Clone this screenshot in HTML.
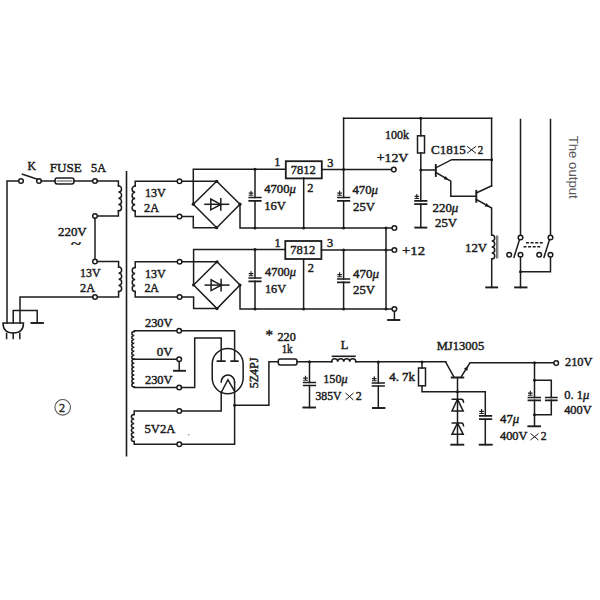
<!DOCTYPE html>
<html><head><meta charset="utf-8"><style>
html,body{margin:0;padding:0;background:#fff;width:600px;height:600px;overflow:hidden}
svg{display:block}
</style></head><body>
<svg width="600" height="600" viewBox="0 0 600 600">
<rect width="600" height="600" fill="#fff"/>
<g fill="none" stroke="#1c1c1c" stroke-width="1.5" stroke-linecap="square" stroke-linejoin="miter">
<path d="M36.7,181 L39,181" />
<path d="M7,323 V181 H18.7" />
<circle cx="21" cy="181" r="2.3" fill="#fff"/>
<circle cx="39" cy="181" r="2.3" fill="#fff"/>
<path d="M22.5,174.2 L37.5,179.2" />
<path d="M41.3,181 H55 M74,181 H92.7" />
<rect x="55" y="178" width="19" height="6" rx="2.2"/>
<path d="M57,181 H72" stroke-width="0.8"/>
<circle cx="95" cy="181" r="2.3" fill="#fff"/>
<path d="M97.3,181 H118.4 V185.8" />
<path d="M118.4,185.8 a3.12,3.12 0 0 1 0,6.250 a3.12,3.12 0 0 1 0,6.250 a3.12,3.12 0 0 1 0,6.250 a3.12,3.12 0 0 1 0,6.250" />
<path d="M118.4,210.8 V216 H97.3" />
<circle cx="95" cy="216" r="2.3" fill="#fff"/>
<path d="M95,218.3 V259" />
<circle cx="95" cy="261.5" r="2.3" fill="#fff"/>
<path d="M97.3,261.5 H118.6 V267" />
<path d="M118.6,267 a3.06,3.06 0 0 1 0,6.125 a3.06,3.06 0 0 1 0,6.125 a3.06,3.06 0 0 1 0,6.125 a3.06,3.06 0 0 1 0,6.125" />
<path d="M118.6,291.5 V297 H97.3" />
<circle cx="95" cy="297" r="2.3" fill="#fff"/>
<path d="M92.7,297 H20 V323" />
<path d="M13.2,323 V310.5 H37.2 V323" />
<path d="M31.450000000000003,323 H42.95" stroke-width="1.9"/>
<path d="M3,323 H23.5 Q23.5,333 13.2,333 Q3,333 3,323 Z" />
<path d="M6.6,333.5 V338.5 M13.2,333.5 V338.5 M19.8,333.5 V338.5" />
<path d="M126.5,171.7 V455.8" stroke-width="1.6"/>
<path d="M177.2,181.3 H135.2 V186" />
<path d="M135.2,186 a3.12,3.12 0 0 0 0,6.250 a3.12,3.12 0 0 0 0,6.250 a3.12,3.12 0 0 0 0,6.250 a3.12,3.12 0 0 0 0,6.250" />
<path d="M135.2,211 V216.5 H177.2" />
<circle cx="179.5" cy="181.3" r="2.3" fill="#fff"/>
<circle cx="179.5" cy="216.5" r="2.3" fill="#fff"/>
<path d="M181.8,181.3 H216.7" />
<path d="M216.7,181.3 L240,204.2 L216.7,227.7 L193.3,204.2 Z" />
<path d="M193.3,204.2 V169.2 H285.3" />
<path d="M181.8,216.5 H193.3 V227.7 H216.7" />
<path d="M240,204.2 V228 H392.1" />
<circle cx="216.7" cy="181.3" r="1.6" fill="#1c1c1c" stroke="none"/>
<circle cx="193.3" cy="204.2" r="1.6" fill="#1c1c1c" stroke="none"/>
<circle cx="240" cy="204.2" r="1.6" fill="#1c1c1c" stroke="none"/>
<circle cx="216.7" cy="227.7" r="1.6" fill="#1c1c1c" stroke="none"/>
<path d="M205,204.3 H228.5" />
<path d="M210.8,199 V209.8 L220.8,204.4 Z" />
<path d="M220.8,198.8 V210" />
<path d="M255,169.2 V197.5 M255,200.9 V228" />
<path d="M249.25,197.5 H260.75 M249.25,200.9 H260.75" stroke-width="1.7"/>
<path d="M248.7,193.1 H253.3 M251.0,190.7 V195.1 M248.7,195.2 H253.3" stroke-width="1.1" stroke-linecap="butt"/>
<circle cx="255" cy="169.2" r="1.5" fill="#1c1c1c" stroke="none"/>
<circle cx="255" cy="228" r="1.5" fill="#1c1c1c" stroke="none"/>
<rect x="285.8" y="161.2" width="36" height="17.2" stroke-width="1.8"/>
<path d="M303.7,178 V228" />
<circle cx="303.7" cy="228" r="1.5" fill="#1c1c1c" stroke="none"/>
<path d="M322,169.6 H391.5" />
<circle cx="393.8" cy="169.6" r="2.3" fill="#fff"/>
<circle cx="343.6" cy="169.6" r="1.5" fill="#1c1c1c" stroke="none"/>
<path d="M343.6,118.3 V197.5 M343.6,200.9 V228" />
<path d="M337.85,197.5 H349.35 M337.85,200.9 H349.35" stroke-width="1.7"/>
<path d="M337.3,193.1 H341.90000000000003 M339.6,190.7 V195.1 M337.3,195.2 H341.90000000000003" stroke-width="1.1" stroke-linecap="butt"/>
<circle cx="343.6" cy="228" r="1.5" fill="#1c1c1c" stroke="none"/>
<circle cx="386" cy="228" r="1.5" fill="#1c1c1c" stroke="none"/>
<circle cx="394.4" cy="228" r="2.3" fill="#fff"/>
<path d="M343.6,118.3 H491.6" />
<circle cx="420.8" cy="118.3" r="1.5" fill="#1c1c1c" stroke="none"/>
<path d="M420.8,118.3 V135.8 M420.8,153 V200.8 M420.8,204.2 V227.6" />
<rect x="417.5" y="135.8" width="7" height="17.2"/>
<path d="M415.05,200.8 H426.55 M415.05,204.2 H426.55" stroke-width="1.7"/>
<path d="M414.5,196.4 H419.1 M416.8,194.0 V198.4 M414.5,198.5 H419.1" stroke-width="1.1" stroke-linecap="butt"/>
<path d="M415.3,227.6 H426.3" stroke-width="1.9"/>
<circle cx="420.8" cy="170" r="1.5" fill="#1c1c1c" stroke="none"/>
<path d="M420.8,170 H435.8" />
<path d="M435.8,165 V176" stroke-width="1.9"/>
<path d="M435.8,167.8 L451.7,159.7 H491.6" />
<circle cx="491.6" cy="159.7" r="1.5" fill="#1c1c1c" stroke="none"/>
<path d="M435.8,172.5 L450.8,181.2 V196.3 H476.3" />
<path d="M476.3,190.8 V201.8" stroke-width="1.9"/>
<path d="M476.3,193 L491.6,185.8" />
<path d="M491.6,118.3 V185.8" />
<path d="M476.3,199.5 L491.6,208 V235" />
<path d="M448.50,179.90 L443.60,179.36 L445.62,175.91 Z" fill="#1c1c1c" stroke="none"/>
<path d="M489.50,206.90 L484.60,206.44 L486.55,202.95 Z" fill="#1c1c1c" stroke="none"/>
<path d="M491.7,235 a3.00,3.00 0 0 1 0,6.000 a3.00,3.00 0 0 1 0,6.000 a3.00,3.00 0 0 1 0,6.000 a3.00,3.00 0 0 1 0,6.000" />
<path d="M491.7,259 V287.4" />
<path d="M486.2,287.4 H497.2" stroke-width="1.9"/>
<path d="M496.6,236 V258 M497.8,236 V258" stroke-width="0.7"/>
<path d="M520.5,119.5 V235.2 M550.5,119.5 V235.2" />
<circle cx="520.5" cy="237.5" r="2.3" fill="#fff"/>
<circle cx="550.5" cy="237.5" r="2.3" fill="#fff"/>
<circle cx="509.2" cy="254.8" r="2.3" fill="#fff"/>
<circle cx="520.5" cy="254.8" r="2.3" fill="#fff"/>
<circle cx="539.2" cy="254.8" r="2.3" fill="#fff"/>
<circle cx="550.5" cy="254.8" r="2.3" fill="#fff"/>
<path d="M514,257.2 L519.4,240 M544,257.2 L549.4,240" />
<path d="M526,242.8 H543.5 M523.5,246.8 H541.5" stroke-width="1.5" stroke-dasharray="3,1.6" stroke-linecap="butt"/>
<path d="M520.5,257.1 V271.8 H550.5 V257.1 M520.5,271.8 V287.4" />
<circle cx="520.5" cy="271.8" r="1.5" fill="#1c1c1c" stroke="none"/>
<path d="M515.05,287.4 H526.55" stroke-width="1.9"/>
<path d="M177.3,261.8 H135.2 V267.5" />
<path d="M135.2,267.5 a3.00,3.00 0 0 0 0,6.000 a3.00,3.00 0 0 0 0,6.000 a3.00,3.00 0 0 0 0,6.000 a3.00,3.00 0 0 0 0,6.000" />
<path d="M135.2,291.5 V297 H177.3" />
<circle cx="179.6" cy="261.8" r="2.3" fill="#fff"/>
<circle cx="179.6" cy="297" r="2.3" fill="#fff"/>
<path d="M181.9,261.8 H217" />
<path d="M217,261.8 L240,285 L217,308.6 L193.6,285 Z" />
<path d="M193.6,285 V249.6 H285" />
<path d="M181.9,297 H193.6 V308.6 H217" />
<path d="M240,285 V309 H392.1" />
<circle cx="217" cy="261.8" r="1.6" fill="#1c1c1c" stroke="none"/>
<circle cx="193.6" cy="285" r="1.6" fill="#1c1c1c" stroke="none"/>
<circle cx="240" cy="285" r="1.6" fill="#1c1c1c" stroke="none"/>
<circle cx="217" cy="308.6" r="1.6" fill="#1c1c1c" stroke="none"/>
<path d="M205.3,285.1 H228.8" />
<path d="M211.1,279.8 V290.6 L221.1,285.2 Z" />
<path d="M221.1,279.6 V290.8" />
<path d="M255,249.6 V278 M255,281.3 V309" />
<path d="M249.25,278 H260.75 M249.25,281.3 H260.75" stroke-width="1.7"/>
<path d="M248.7,273.6 H253.3 M251.0,271.20000000000005 V275.6 M248.7,275.70000000000005 H253.3" stroke-width="1.1" stroke-linecap="butt"/>
<circle cx="255" cy="249.6" r="1.5" fill="#1c1c1c" stroke="none"/>
<circle cx="255" cy="309" r="1.5" fill="#1c1c1c" stroke="none"/>
<rect x="285.3" y="241" width="36.1" height="18" stroke-width="1.8"/>
<path d="M303.6,259 V309" />
<circle cx="303.6" cy="309" r="1.5" fill="#1c1c1c" stroke="none"/>
<path d="M321.6,250 H392.1" />
<circle cx="394.4" cy="250" r="2.3" fill="#fff"/>
<circle cx="343.6" cy="250" r="1.5" fill="#1c1c1c" stroke="none"/>
<circle cx="386" cy="250" r="1.5" fill="#1c1c1c" stroke="none"/>
<path d="M343.6,250 V279 M343.6,282.3 V309" />
<path d="M337.85,279 H349.35 M337.85,282.3 H349.35" stroke-width="1.7"/>
<path d="M337.3,274.6 H341.90000000000003 M339.6,272.20000000000005 V276.6 M337.3,276.70000000000005 H341.90000000000003" stroke-width="1.1" stroke-linecap="butt"/>
<circle cx="343.6" cy="309" r="1.5" fill="#1c1c1c" stroke="none"/>
<path d="M386,228 V309" />
<circle cx="386" cy="309" r="1.5" fill="#1c1c1c" stroke="none"/>
<circle cx="394.4" cy="309" r="2.3" fill="#fff"/>
<path d="M394.4,311.3 V320" />
<path d="M388.05,320 H399.34999999999997" stroke-width="1.9"/>
<path d="M176.9,330.8 H134.3 V331.5" />
<path d="M134.3,331.5 a2.60,1.98 0 0 0 0,3.957 a2.60,1.98 0 0 0 0,3.957 a2.60,1.98 0 0 0 0,3.957 a2.60,1.98 0 0 0 0,3.957 a2.60,1.98 0 0 0 0,3.957 a2.60,1.98 0 0 0 0,3.957 a2.60,1.98 0 0 0 0,3.957" />
<path d="M134.3,359.2 a2.60,1.99 0 0 0 0,3.971 a2.60,1.99 0 0 0 0,3.971 a2.60,1.99 0 0 0 0,3.971 a2.60,1.99 0 0 0 0,3.971 a2.60,1.99 0 0 0 0,3.971 a2.60,1.99 0 0 0 0,3.971 a2.60,1.99 0 0 0 0,3.971" />
<path d="M134.3,387 V387.5 H176.9" />
<path d="M134.3,359.2 H176.9" />
<circle cx="179.2" cy="330.8" r="2.3" fill="#fff"/>
<circle cx="179.2" cy="359.2" r="2.3" fill="#fff"/>
<circle cx="179.2" cy="387.5" r="2.3" fill="#fff"/>
<path d="M179.2,361.5 V370.8" />
<path d="M174.0,370.8 H185.0" stroke-width="1.9"/>
<path d="M181.5,330.8 H234.6 V361.2" />
<path d="M181.5,387.5 H194.7 V338 H221.2 V361.2" />
<path d="M217.5,361.2 H224.8 M231.2,361.2 H237.8" stroke-width="1.7"/>
<rect x="212.25" y="348.5" width="30.9" height="45.2" rx="15.45" ry="15.45"/>
<path d="M221.2,382 V382 A6.7,6.9 0 0 1 234.6,382" />
<path d="M221.2,392.5 L227.9,379.7 L234.6,391.3" />
<path d="M234.6,382 V444.2 H181.5" />
<path d="M221.2,392.5 V411 H181.6" />
<circle cx="234.6" cy="405.3" r="1.5" fill="#1c1c1c" stroke="none"/>
<path d="M234.6,405.3 H268.9 V361.7 H278.3" />
<path d="M176.9,411 H134.2 V414.5" />
<path d="M134.2,414.5 a2.80,2.25 0 0 0 0,4.500 a2.80,2.25 0 0 0 0,4.500 a2.80,2.25 0 0 0 0,4.500 a2.80,2.25 0 0 0 0,4.500 a2.80,2.25 0 0 0 0,4.500 a2.80,2.25 0 0 0 0,4.500" />
<path d="M134.2,441.5 V444.2 H176.9" />
<circle cx="179.3" cy="411" r="2.3" fill="#fff"/>
<circle cx="179.3" cy="444.2" r="2.3" fill="#fff"/>
<rect x="278.3" y="358.9" width="18.7" height="6" rx="1.8"/>
<path d="M297,361.8 H331.7" />
<circle cx="309.5" cy="361.8" r="1.5" fill="#1c1c1c" stroke="none"/>
<path d="M309.5,361.8 V382.5 M309.5,385.5 V407.5" />
<path d="M303.75,382.5 H315.25 M303.75,385.5 H315.25" stroke-width="1.7"/>
<path d="M303.2,378.1 H307.8 M305.5,375.70000000000005 V380.1 M303.2,380.20000000000005 H307.8" stroke-width="1.1" stroke-linecap="butt"/>
<path d="M303.34999999999997,407.5 H315.05" stroke-width="1.9"/>
<path d="M331.7,361.8 a3.01,3.01 0 0 1 6.025,0 a3.01,3.01 0 0 1 6.025,0 a3.01,3.01 0 0 1 6.025,0 a3.01,3.01 0 0 1 6.025,0" />
<path d="M332.5,356.3 H355" stroke-width="1.6"/>
<path d="M355.8,361.8 H445.8" />
<circle cx="378.3" cy="362" r="1.5" fill="#1c1c1c" stroke="none"/>
<circle cx="422" cy="362" r="1.5" fill="#1c1c1c" stroke="none"/>
<path d="M378.3,362 V383 M378.3,386 V408" />
<path d="M372.55,383 H384.05 M372.55,386 H384.05" stroke-width="1.7"/>
<path d="M372.0,378.6 H376.6 M374.3,376.20000000000005 V380.6 M372.0,380.70000000000005 H376.6" stroke-width="1.1" stroke-linecap="butt"/>
<path d="M372.95,408 H384.45" stroke-width="1.9"/>
<path d="M422,362 V368 M422,385.8 V391.8 H485.3 V415.8 M485.3,419.2 V444.7" />
<rect x="418.5" y="368" width="7" height="17.8"/>
<path d="M479.85,415.8 H491.35 M479.85,419.2 H491.35" stroke-width="1.7"/>
<path d="M479.3,411.40000000000003 H483.90000000000003 M481.6,409.00000000000006 V413.40000000000003 M479.3,413.50000000000006 H483.90000000000003" stroke-width="1.1" stroke-linecap="butt"/>
<path d="M479.7,444.7 H491.7" stroke-width="1.9"/>
<path d="M445.8,362.3 L454.2,377.5" />
<path d="M451.7,377.5 H463.3" stroke-width="1.9"/>
<path d="M460.8,377.5 L470,362.8 H553.9" />
<path d="M468.00,366.00 L467.31,370.88 L463.92,368.75 Z" fill="#1c1c1c" stroke="none"/>
<path d="M457.5,377.5 V444.7" />
<circle cx="457.5" cy="391.8" r="1.5" fill="#1c1c1c" stroke="none"/>
<path d="M451.3,444.7 H463.3" stroke-width="1.9"/>
<path d="M452,411 H463.2 L457.5,399.3 Z" />
<path d="M452.3,399.3 H461.3 Q463.3,399.3 463.5,402.1" />
<path d="M452,434.3 H463.2 L457.5,423 Z" />
<path d="M452.3,423 H461.3 Q463.3,423 463.5,425.8" />
<circle cx="534.5" cy="362.8" r="1.5" fill="#1c1c1c" stroke="none"/>
<circle cx="556.2" cy="363.1" r="2.3" fill="#fff"/>
<path d="M534.5,362.8 V397.5 M534.5,400.3 V426.3" />
<circle cx="534.5" cy="380.3" r="1.5" fill="#1c1c1c" stroke="none"/>
<circle cx="534.5" cy="414.7" r="1.5" fill="#1c1c1c" stroke="none"/>
<path d="M534.5,380.3 H551.3 V397.5 M551.3,400.3 V414.7 H534.5" />
<path d="M528.4499999999999,397.5 H540.15 M528.4499999999999,400.3 H540.15" stroke-width="1.7"/>
<path d="M528.0,393.1 H532.5999999999999 M530.3,390.70000000000005 V395.1 M528.0,395.20000000000005 H532.5999999999999" stroke-width="1.1" stroke-linecap="butt"/>
<path d="M545.8,397.5 H556.8 M545.8,400.3 H556.8" stroke-width="1.7"/>
<path d="M528.35,426.3 H540.0500000000001" stroke-width="1.9"/>
<circle cx="188.8" cy="434.7" r="0.8" fill="#888" stroke="none"/>
<circle cx="62.7" cy="407.3" r="7.8" stroke-width="1.1" stroke="#555"/>
<path d="M467,146.3 L476,153.3 M476,146.3 L467,153.3" stroke-width="1.0" stroke-linecap="butt"/>
<path d="M345.5,393 L353.5,400 M353.5,393 L345.5,400" stroke-width="1.0" stroke-linecap="butt"/>
<path d="M530.5,433.5 L538.5,440 M538.5,433.5 L530.5,440" stroke-width="1.0" stroke-linecap="butt"/>
</g>
<g font-family="Liberation Serif" fill="#1c1c1c" stroke="#1c1c1c" stroke-width="0.45">
<text x="27.5" y="170.2" font-size="11.5" textLength="8.5" lengthAdjust="spacingAndGlyphs" >K</text>
<text x="49.7" y="171.7" font-size="13" textLength="32" lengthAdjust="spacingAndGlyphs" >FUSE</text>
<text x="91" y="171.7" font-size="12.5" textLength="15" lengthAdjust="spacingAndGlyphs" >5A</text>
<text x="58" y="236" font-size="12.5" textLength="28.7" lengthAdjust="spacingAndGlyphs" >220V</text>
<text x="71" y="248" font-size="13" textLength="10" lengthAdjust="spacingAndGlyphs" >~</text>
<text x="80" y="277.2" font-size="12.5" textLength="20.5" lengthAdjust="spacingAndGlyphs" >13V</text>
<text x="80" y="292" font-size="12.5" textLength="15" lengthAdjust="spacingAndGlyphs" >2A</text>
<text x="145" y="196.7" font-size="12.5" textLength="20.8" lengthAdjust="spacingAndGlyphs" >13V</text>
<text x="144" y="211.7" font-size="12.5" textLength="15" lengthAdjust="spacingAndGlyphs" >2A</text>
<text x="145" y="277.6" font-size="12.5" textLength="20.8" lengthAdjust="spacingAndGlyphs" >13V</text>
<text x="144.4" y="292.4" font-size="12.5" textLength="14.6" lengthAdjust="spacingAndGlyphs" >2A</text>
<text x="264.2" y="193.3" font-size="12.5" textLength="31.6" lengthAdjust="spacingAndGlyphs" >4700<tspan font-style="italic">μ</tspan></text>
<text x="264.2" y="210" font-size="12.5" textLength="21.6" lengthAdjust="spacingAndGlyphs" >16V</text>
<text x="290.8" y="174.2" font-size="12.5" textLength="25" lengthAdjust="spacingAndGlyphs" >7812</text>
<text x="274.2" y="166.3" font-size="12.3" >1</text>
<text x="327.3" y="166.7" font-size="12.3" >3</text>
<text x="307.3" y="191.7" font-size="12.3" >2</text>
<text x="352.5" y="194.2" font-size="12.5" textLength="25.5" lengthAdjust="spacingAndGlyphs" >470<tspan font-style="italic">μ</tspan></text>
<text x="353" y="211" font-size="12.5" textLength="22" lengthAdjust="spacingAndGlyphs" >25V</text>
<text x="376.7" y="161.7" font-size="12.5" textLength="31.6" lengthAdjust="spacingAndGlyphs" >+12V</text>
<text x="385" y="139.2" font-size="12.5" textLength="24" lengthAdjust="spacingAndGlyphs" >100k</text>
<text x="431" y="153.5" font-size="13" textLength="34.8" lengthAdjust="spacingAndGlyphs" >C1815</text>
<text x="477.8" y="153.5" font-size="13" textLength="5.5" lengthAdjust="spacingAndGlyphs" >2</text>
<text x="432.5" y="211.7" font-size="12.5" textLength="25.8" lengthAdjust="spacingAndGlyphs" >220<tspan font-style="italic">μ</tspan></text>
<text x="435" y="227.2" font-size="12.5" textLength="22" lengthAdjust="spacingAndGlyphs" >25V</text>
<text x="465" y="252.4" font-size="12.5" textLength="22" lengthAdjust="spacingAndGlyphs" >12V</text>
<text x="265" y="276" font-size="12.5" textLength="31" lengthAdjust="spacingAndGlyphs" >4700<tspan font-style="italic">μ</tspan></text>
<text x="265" y="293" font-size="12.5" textLength="21" lengthAdjust="spacingAndGlyphs" >16V</text>
<text x="290.3" y="254.2" font-size="12.5" textLength="25" lengthAdjust="spacingAndGlyphs" >7812</text>
<text x="274.5" y="246.6" font-size="12.3" >1</text>
<text x="327" y="246.6" font-size="12.3" >3</text>
<text x="307.8" y="272.4" font-size="12.3" >2</text>
<text x="353" y="278" font-size="12.5" textLength="26" lengthAdjust="spacingAndGlyphs" >470<tspan font-style="italic">μ</tspan></text>
<text x="353" y="294" font-size="12.5" textLength="22" lengthAdjust="spacingAndGlyphs" >25V</text>
<text x="402" y="255" font-size="12.5" textLength="23" lengthAdjust="spacingAndGlyphs" >+12</text>
<text x="145" y="326.7" font-size="12.5" textLength="27.5" lengthAdjust="spacingAndGlyphs" >230V</text>
<text x="156.7" y="356.3" font-size="12.5" textLength="15.8" lengthAdjust="spacingAndGlyphs" >0V</text>
<text x="145" y="384.2" font-size="12.5" textLength="27.5" lengthAdjust="spacingAndGlyphs" >230V</text>
<text x="144.5" y="432.5" font-size="12.5" textLength="30.8" lengthAdjust="spacingAndGlyphs" >5V2A</text>
<text x="277.5" y="340.8" font-size="12" textLength="18.3" lengthAdjust="spacingAndGlyphs" >220</text>
<text x="281.7" y="353.3" font-size="12" textLength="10.8" lengthAdjust="spacingAndGlyphs" >1k</text>
<text x="340.8" y="349.2" font-size="12" textLength="7.5" lengthAdjust="spacingAndGlyphs" >L</text>
<text x="323.3" y="383.3" font-size="12.5" textLength="24.2" lengthAdjust="spacingAndGlyphs" >150<tspan font-style="italic">μ</tspan></text>
<text x="315.5" y="399.8" font-size="12.5" textLength="26" lengthAdjust="spacingAndGlyphs" >385V</text>
<text x="355.8" y="399.8" font-size="12.5" textLength="6" lengthAdjust="spacingAndGlyphs" >2</text>
<text x="389.2" y="380.8" font-size="12" textLength="25.8" lengthAdjust="spacingAndGlyphs" >4. 7k</text>
<text x="436.7" y="350.3" font-size="12.5" textLength="47.5" lengthAdjust="spacingAndGlyphs" >MJ13005</text>
<text x="500" y="422.5" font-size="12.5" textLength="19.2" lengthAdjust="spacingAndGlyphs" >47<tspan font-style="italic">μ</tspan></text>
<text x="500" y="439.8" font-size="12.5" textLength="27.5" lengthAdjust="spacingAndGlyphs" >400V</text>
<text x="540.8" y="439.8" font-size="12.5" textLength="5.8" lengthAdjust="spacingAndGlyphs" >2</text>
<text x="565" y="366.3" font-size="12.5" textLength="27.5" lengthAdjust="spacingAndGlyphs" >210V</text>
<text x="564.2" y="398.7" font-size="12.5" textLength="25" lengthAdjust="spacingAndGlyphs" >0. 1<tspan font-style="italic">μ</tspan></text>
<text x="564.2" y="414.2" font-size="12.5" textLength="27.5" lengthAdjust="spacingAndGlyphs" >400V</text>
<text x="59" y="411.8" font-size="12" fill="#444">2</text>
<text x="265.6" y="339.5" font-size="15" >*</text>
<text transform="translate(258.3,388.3) rotate(-90)" font-size="12.5" textLength="30.8" lengthAdjust="spacingAndGlyphs">5Z4PJ</text>
<text transform="translate(568.6,135.7) rotate(90)" font-family="Liberation Sans" font-size="13" fill="#585858" stroke="none" textLength="63" lengthAdjust="spacingAndGlyphs">The output</text>
</g>
</svg>
</body></html>
